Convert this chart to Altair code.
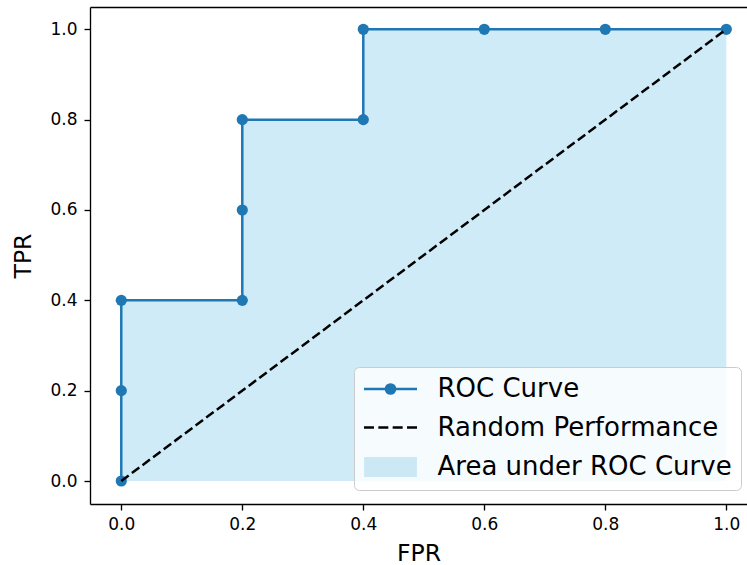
import altair as alt
import pandas as pd

# ---- data ----
fpr = [0.0, 0.0, 0.0, 0.2, 0.2, 0.2, 0.4, 0.4, 0.6, 0.8, 1.0]
tpr = [0.0, 0.2, 0.4, 0.4, 0.6, 0.8, 0.8, 1.0, 1.0, 1.0, 1.0]
diag_x = [0.0, 1.0]
diag_y = [0.0, 1.0]
series = ["ROC Curve", "Random Performance", "Area under ROC Curve"]
tick_values = [0.0, 0.2, 0.4, 0.6, 0.8, 1.0]

roc = pd.DataFrame({"fpr": fpr, "tpr": tpr, "idx": list(range(len(fpr)))})
diag = pd.DataFrame({"fpr": diag_x, "tpr": diag_y})
legend_src = pd.DataFrame({"series": series})

W, H = 657, 497
FONT = "DejaVu Sans"
BLUE = "#1f77b4"

xscale = alt.Scale(domain=[-0.0517, 1.0342], nice=False, zero=False)
yscale = alt.Scale(domain=[-0.0509, 1.0494], nice=False, zero=False)

x_axis = alt.Axis(values=tick_values, format=".1f", title="FPR", grid=False,
                  labelPadding=6, titlePadding=9)
y_axis = alt.Axis(values=tick_values, format=".1f", title="TPR", grid=False,
                  labelPadding=7, titlePadding=14)
top_axis = alt.Axis(orient="top", labels=False, ticks=False, title=None, grid=False)

area = alt.Chart(roc).mark_area(color="skyblue", opacity=0.4).encode(
    x=alt.X("fpr:Q", scale=xscale, axis=x_axis),
    y=alt.Y("tpr:Q", scale=yscale, axis=y_axis),
    y2=alt.datum(0),
)

roc_line = alt.Chart(roc).mark_line(color=BLUE, strokeWidth=2.5).encode(
    x=alt.X("fpr:Q", scale=xscale, axis=None),
    y=alt.Y("tpr:Q", scale=yscale, axis=y_axis),
    order=alt.Order("idx:Q"),
)

roc_pts = alt.Chart(roc).mark_point(filled=True, color=BLUE, opacity=1, size=125).encode(
    x=alt.X("fpr:Q", scale=xscale, axis=None),
    y=alt.Y("tpr:Q", scale=yscale, axis=y_axis),
)

diag_line = alt.Chart(diag).mark_line(color="black", strokeWidth=2.5,
                                      strokeDash=[9.25, 4]).encode(
    x=alt.X("fpr:Q", scale=xscale, axis=top_axis),
    y=alt.Y("tpr:Q", scale=yscale, axis=y_axis),
)

# legend symbols (custom paths; unit = sqrt(size)/2 = 11 px)
shape_paths = [
    "M-2.41,0H2.41M-0.42,0A0.42,0.42,0,1,0,0.42,0A0.42,0.42,0,1,0,-0.42,0Z",
    "M-2.41,0H-1.501M-1.106,0H-0.197M0.198,0H1.107M1.502,0H2.41",
    "M-2.29,-0.8H2.29V0.8H-2.29Z",
]
fill_colors = [BLUE, "#000000", "#cde8f5"]
stroke_colors = [BLUE, "#000000", "#cde8f5"]

leg = alt.Legend(
    title=None, orient="none", legendX=264, legendY=360,
    symbolOffset=14.5, labelOffset=34, rowPadding=12.5, padding=9,
    labelFont=FONT, labelFontSize=26, labelColor="black", labelLimit=400,
    symbolStrokeWidth=2.5, symbolSize=484,
    fillColor="rgba(255,255,255,0.8)", strokeColor="#cccccc", cornerRadius=5,
)

legend_layer = alt.Chart(legend_src).transform_filter("false").mark_point(
    filled=True, opacity=1, size=484, strokeWidth=2.5
).encode(
    shape=alt.Shape("series:N", scale=alt.Scale(domain=series, range=shape_paths), legend=leg),
    fill=alt.Fill("series:N", scale=alt.Scale(domain=series, range=fill_colors), legend=leg),
    stroke=alt.Stroke("series:N", scale=alt.Scale(domain=series, range=stroke_colors), legend=leg),
)

chart = alt.layer(area, roc_line, roc_pts, diag_line, legend_layer).resolve_axis(
    x="independent"
).properties(
    width=W, height=H,
    autosize=alt.AutoSizeParams(type="none"),
    padding={"left": 90, "top": 7, "right": 0, "bottom": 61},
    background="white",
).configure_view(
    strokeWidth=0
).configure_axis(
    labelFont=FONT, labelFontSize=17, labelColor="black",
    titleFont=FONT, titleFontSize=23.5, titleFontWeight="normal", titleColor="black",
    tickColor="black", tickSize=6, tickWidth=1.33,
    domainColor="black", domainWidth=1.33,
)

chart.save("out.html", embed_options={"renderer": "svg", "actions": False})
